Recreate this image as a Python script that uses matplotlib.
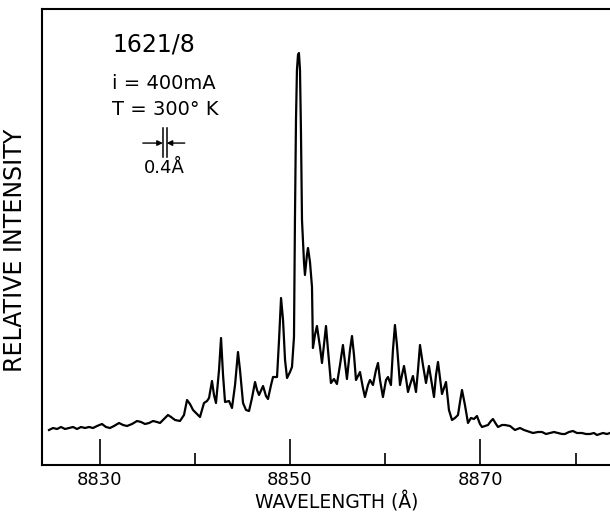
import matplotlib
matplotlib.use("Agg")
import matplotlib.pyplot as plt
from matplotlib.ticker import FixedLocator
import matplotlib.transforms as mtransforms

# spectrum (wavelength in Angstrom, relative intensity)
wavelength = [
    8824.70, 8825.12, 8825.54, 8825.96, 8826.38, 8826.80, 8827.22, 8827.64,
    8828.06, 8828.48, 8828.90, 8829.32, 8829.74, 8830.26, 8830.68, 8831.10,
    8831.52, 8832.05, 8832.47, 8832.89, 8833.41, 8833.94, 8834.36, 8834.78,
    8835.20, 8835.62, 8836.04, 8836.35, 8836.77, 8837.19, 8837.51, 8837.93,
    8838.45, 8838.87, 8839.19, 8839.50, 8839.82, 8840.24, 8840.55, 8840.97,
    8841.29, 8841.50, 8841.81, 8842.02, 8842.23, 8842.55, 8842.76, 8842.97,
    8843.18, 8843.60, 8843.91, 8844.23, 8844.54, 8844.75, 8845.07, 8845.38,
    8845.70, 8846.01, 8846.33, 8846.54, 8846.75, 8847.17, 8847.48, 8847.69,
    8848.01, 8848.22, 8848.64, 8848.85, 8849.06, 8849.27, 8849.48, 8849.69,
    8850.00, 8850.21, 8850.42, 8850.52, 8850.63, 8850.73, 8850.84, 8850.94,
    8851.05, 8851.15, 8851.26, 8851.47, 8851.57, 8851.78, 8851.89, 8852.10,
    8852.31, 8852.41, 8852.62, 8852.83, 8853.15, 8853.36, 8853.57, 8853.78,
    8853.99, 8854.30, 8854.62, 8854.93, 8855.25, 8855.56, 8855.77, 8855.98,
    8856.30, 8856.51, 8856.72, 8856.93, 8857.35, 8857.66, 8857.87, 8858.19,
    8858.40, 8858.71, 8859.03, 8859.24, 8859.45, 8859.76, 8860.08, 8860.29,
    8860.60, 8860.81, 8861.02, 8861.23, 8861.55, 8861.76, 8861.97, 8862.18,
    8862.39, 8862.60, 8862.91, 8863.23, 8863.44, 8863.65, 8863.96, 8864.28,
    8864.59, 8864.91, 8865.12, 8865.33, 8865.54, 8865.75, 8865.96, 8866.17,
    8866.38, 8866.69, 8867.01, 8867.32, 8867.64, 8867.85, 8868.06, 8868.37,
    8868.69, 8869.00, 8869.32, 8869.63, 8869.95, 8870.16, 8870.47, 8870.79,
    8871.10, 8871.31, 8871.63, 8871.84, 8872.26, 8872.57, 8873.10, 8873.62,
    8874.15, 8874.57, 8874.88, 8875.51, 8876.04, 8876.46, 8876.88, 8877.30,
    8877.72, 8878.14, 8878.56, 8878.87, 8879.29, 8879.71, 8880.13, 8880.66,
    8881.08, 8881.50, 8881.92, 8882.23, 8882.55, 8882.86, 8883.28, 8883.60,
]
intensity = [
    6.8, 7.2, 7.0, 7.4, 7.0, 7.2, 7.4, 7.0,
    7.4, 7.2, 7.4, 7.2, 7.6, 8.0, 7.4, 7.2,
    7.6, 8.2, 7.8, 7.6, 8.0, 8.6, 8.4, 8.0,
    8.2, 8.6, 8.4, 8.2, 9.0, 9.8, 9.4, 8.8,
    8.6, 9.8, 12.8, 12.0, 10.8, 10.0, 9.4, 12.2,
    12.6, 13.2, 16.6, 13.8, 12.2, 18.8, 25.2, 17.8,
    12.4, 12.6, 11.2, 15.8, 22.4, 18.8, 12.2, 10.8,
    10.6, 13.2, 16.4, 14.8, 13.8, 15.6, 13.6, 13.0,
    15.8, 17.4, 17.4, 24.8, 33.2, 28.8, 20.8, 17.2,
    18.4, 19.4, 25.4, 48.8, 68.8, 78.8, 81.8, 82.2,
    78.8, 66.8, 48.8, 40.4, 37.8, 41.8, 43.2, 40.4,
    35.4, 23.2, 25.8, 27.6, 23.4, 20.2, 23.8, 27.6,
    22.8, 16.2, 17.0, 16.0, 19.8, 23.8, 20.4, 17.0,
    22.8, 25.6, 21.8, 16.8, 18.4, 15.2, 13.4, 15.8,
    16.8, 15.8, 18.8, 20.2, 16.8, 13.4, 16.8, 17.4,
    15.8, 22.8, 27.8, 23.8, 15.8, 17.8, 19.6, 17.2,
    14.4, 15.8, 17.6, 14.4, 18.8, 23.8, 19.8, 16.2,
    19.6, 15.8, 13.4, 17.8, 20.4, 17.2, 14.0, 15.2,
    16.4, 10.8, 8.8, 9.2, 9.8, 12.4, 14.8, 11.8,
    8.2, 9.2, 9.0, 9.6, 8.0, 7.4, 7.6, 7.8,
    8.6, 9.0, 8.0, 7.4, 7.8, 7.8, 7.6, 6.8,
    7.2, 6.8, 6.6, 6.2, 6.4, 6.4, 6.0, 6.2,
    6.4, 6.2, 6.0, 6.0, 6.4, 6.6, 6.2, 6.2,
    6.0, 6.0, 6.2, 5.8, 6.0, 6.2, 6.0, 6.2,
]

major_ticks = [8830, 8850, 8870]
minor_ticks = [8840, 8860, 8880]
sample_id = "1621/8"
current_text = "i = 400mA"
temp_text = "T = 300° K"
resolution = 0.4  # Angstrom

plt.rcParams.update({"font.family": "DejaVu Sans"})

fig = plt.figure(figsize=(6.1, 5.14), dpi=100)
ax = fig.add_axes([41.6 / 610, 49 / 514, 568.4 / 610, 456 / 514])

ax.plot(wavelength, intensity, color="black", lw=1.6, solid_joinstyle="round")

ax.set_xlim(8823.92, 8883.60)
ax.set_ylim(-0.2, 91)
ax.xaxis.set_major_locator(FixedLocator(major_ticks))
ax.xaxis.set_minor_locator(FixedLocator(minor_ticks))
ax.set_yticks([])
ax.tick_params(axis="x", which="major", direction="in", length=18.5,
               width=1.2, labelsize=13, pad=4)
ax.tick_params(axis="x", which="minor", direction="in", length=8.5, width=1.2)
ax.spines["right"].set_visible(False)
for s in ("left", "bottom", "top"):
    ax.spines[s].set_linewidth(1.5)

ax.set_xlabel("WAVELENGTH (Å)", fontsize=13.5)
ax.xaxis.set_label_coords(0.52, -0.059)
ax.set_ylabel("RELATIVE INTENSITY", fontsize=17)
ax.yaxis.set_label_coords(-0.026, 0.47)

ax.text(0.124, 0.922, sample_id, transform=ax.transAxes, fontsize=17,
        ha="left", va="center")
ax.text(0.124, 0.836, current_text, transform=ax.transAxes, fontsize=14,
        ha="left", va="center")
ax.text(0.124, 0.779, temp_text, transform=ax.transAxes, fontsize=14,
        ha="left", va="center")

# 0.4 A resolution marker
trans = mtransforms.blended_transform_factory(ax.transData, ax.transAxes)
x0 = 8836.65
x1 = x0 + resolution
for xv in (x0, x1):
    ax.plot([xv, xv], [0.675, 0.739], color="black", lw=1.1, transform=trans)
ax.annotate("", xy=(x0, 0.706), xytext=(x0 - 2.1, 0.706), xycoords=trans,
            textcoords=trans,
            arrowprops=dict(arrowstyle="-|>", color="black", lw=1.0,
                            mutation_scale=8, shrinkA=0, shrinkB=0))
ax.annotate("", xy=(x1, 0.706), xytext=(x1 + 1.9, 0.706), xycoords=trans,
            textcoords=trans,
            arrowprops=dict(arrowstyle="-|>", color="black", lw=1.0,
                            mutation_scale=8, shrinkA=0, shrinkB=0))
ax.text((x0 + x1) / 2, 0.672, f"{resolution}Å", transform=trans, fontsize=13,
        ha="center", va="top")

fig.savefig("out.png", dpi=100)
